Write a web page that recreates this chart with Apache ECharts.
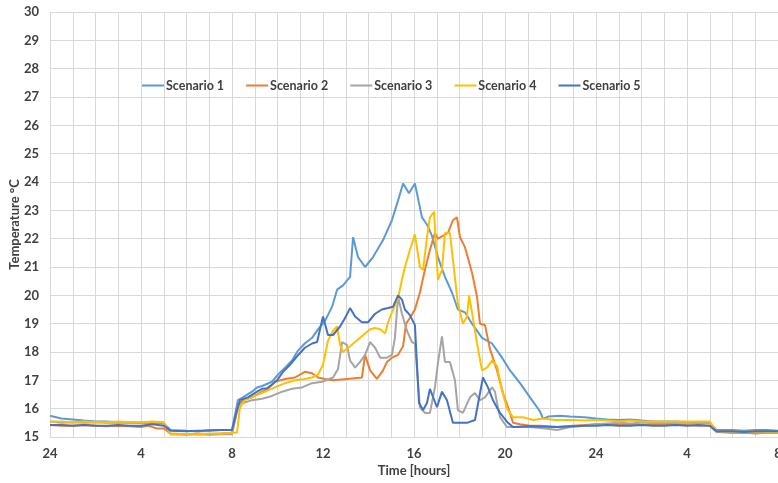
<!DOCTYPE html>
<html>
<head>
<meta charset="utf-8">
<script src="https://cdn.jsdelivr.net/npm/echarts@6/dist/echarts.min.js"></script>
<style>html,body{margin:0;padding:0;background:#fff}#c{width:778px;height:483px}</style>
</head>
<body>
<div id="c"></div>
<script>
// [hour since midnight of day 1, temperature °C]
const seriesNames = ["Scenario 1", "Scenario 2", "Scenario 3", "Scenario 4", "Scenario 5"];
const seriesColors = ["#5B9BD5", "#ED7D31", "#A5A5A5", "#FFC000", "#4472C4"];
const xTickHours = [0, 4, 8, 12, 16, 20, 24, 28, 32];
const xTickLabels = ["24", "4", "8", "12", "16", "20", "24", "4", "8"];

const scenario1 = [[0,15.75],[0.5,15.65],[1,15.62],[1.5,15.58],[2,15.55],[2.5,15.55],[3,15.52],[3.5,15.5],[4,15.5],[4.5,15.5],[5,15.48],[5.3,15.25],[6,15.22],[6.5,15.2],[7,15.25],[7.5,15.25],[8,15.25],
[8.26,16.3],[8.48,16.4],[8.88,16.6],[9.1,16.75],[9.32,16.8],[9.76,16.95],[10.02,17.2],[10.33,17.45],[10.64,17.7],[10.9,18.05],[11.2,18.3],[11.52,18.5],[11.78,18.8],[12.09,19.1],[12.4,19.6],[12.62,20.2],[12.88,20.35],[13.19,20.65],[13.32,22.05],[13.54,21.35],[13.85,21.0],[14.2,21.35],[14.64,21.95],[15.03,22.65],[15.3,23.35],[15.52,23.95],[15.78,23.6],[16.04,23.95],[16.35,22.75],[16.57,22.5],[16.79,22.1],[17.05,21.35],[17.36,20.65],[17.67,20.1],[17.93,19.5],[18.24,19.4],[18.55,19.0],[18.99,18.5],[19.43,18.3],[19.87,17.8],[20.22,17.35],[20.66,16.9],[21.1,16.4],[21.54,15.9],[21.67,15.65],[21.9,15.72],[22.4,15.75],[22.86,15.72],
[23.5,15.7],[24,15.65],[24.5,15.62],[25,15.6],[25.5,15.62],[26,15.58],[26.5,15.55],[27,15.55],[27.5,15.55],[28,15.52],[28.5,15.5],[29,15.5],[29.3,15.25],[30,15.25],[30.5,15.22],[31,15.25],[31.5,15.25],[32,15.22]];

const scenario2 = [[0,15.42],[0.5,15.4],[1,15.4],[1.5,15.42],[2,15.4],[2.5,15.38],[3,15.4],[3.5,15.38],[4,15.35],[4.3,15.4],[4.7,15.3],[5,15.3],[5.3,15.12],[6,15.1],[6.5,15.12],[7,15.1],[7.5,15.12],[8,15.15],
[8.26,16.1],[8.48,16.3],[8.88,16.4],[9.32,16.6],[9.58,16.7],[9.89,16.95],[10.33,17.05],[10.77,17.1],[11.2,17.3],[11.52,17.25],[11.78,17.1],[12.09,17.05],[12.44,17.0],[13.05,17.05],[13.71,17.1],[13.85,17.9],[14.07,17.35],[14.37,17.05],[14.64,17.35],[14.81,17.65],[15.03,17.8],[15.3,17.9],[15.52,18.2],[15.65,19.0],[15.82,19.2],[16.04,19.5],[16.26,20.1],[16.48,20.9],[16.7,21.6],[16.92,22.2],[17.05,22.0],[17.27,22.1],[17.49,22.2],[17.71,22.65],[17.89,22.75],[18.02,22.05],[18.24,21.7],[18.55,20.8],[18.77,19.95],[18.9,19.0],[19.12,18.95],[19.34,18.1],[19.65,17.35],[19.91,16.55],[20.22,15.85],[20.35,15.5],[20.66,15.45],[21.1,15.4],[21.54,15.4],[22.29,15.35],
[23,15.4],[23.5,15.42],[24,15.45],[24.5,15.45],[25,15.42],[25.5,15.45],[26,15.42],[26.5,15.45],[27,15.42],[27.5,15.45],[28,15.42],[28.5,15.4],[29,15.4],[29.3,15.18],[30,15.15],[30.5,15.15],[31,15.12],[31.5,15.15],[32,15.15]];

const scenario3 = [[0,15.55],[0.5,15.5],[1,15.52],[1.5,15.5],[2,15.52],[2.5,15.5],[3,15.5],[3.5,15.52],[4,15.5],[4.5,15.52],[5,15.5],[5.3,15.1],[6,15.08],[6.5,15.1],[7,15.08],[7.5,15.1],[8,15.1],
[8.22,15.9],[8.48,16.2],[8.88,16.3],[9.32,16.35],[9.76,16.45],[10.2,16.6],[10.64,16.7],[11.08,16.75],[11.52,16.9],[11.96,16.95],[12.44,17.1],[12.66,17.4],[12.84,18.35],[13.05,18.25],[13.19,17.7],[13.41,17.45],[13.63,17.65],[13.85,17.9],[14.07,18.35],[14.29,18.15],[14.51,17.8],[14.81,17.8],[15.03,17.9],[15.16,18.5],[15.3,19.95],[15.47,19.35],[15.69,18.75],[15.91,18.35],[16.04,18.3],[16.26,16.05],[16.48,15.85],[16.7,15.85],[16.92,16.75],[17.05,17.6],[17.23,18.55],[17.36,17.65],[17.58,17.65],[17.8,17.0],[17.93,15.95],[18.15,15.85],[18.46,16.4],[18.68,16.55],[18.9,16.3],[19.12,16.4],[19.43,16.75],[19.56,16.6],[19.65,16.2],[19.78,15.7],[20.09,15.35],[20.44,15.35],[21.1,15.35],[21.76,15.3],[22.29,15.25],[22.86,15.35],
[23.5,15.4],[24,15.45],[24.5,15.48],[25,15.5],[25.5,15.48],[26,15.5],[26.5,15.5],[27,15.48],[27.5,15.5],[28,15.5],[28.5,15.5],[29,15.5],[29.3,15.2],[30,15.15],[30.5,15.15],[31,15.15],[31.5,15.15],[32,15.15]];

const scenario4 = [[0,15.55],[0.5,15.55],[1,15.52],[1.5,15.55],[2,15.52],[2.5,15.52],[3,15.55],[3.5,15.52],[4,15.52],[4.5,15.55],[5,15.52],[5.3,15.1],[6,15.1],[6.5,15.1],[7,15.12],[7.5,15.12],[8,15.15],
[8.22,15.15],[8.35,16.05],[8.57,16.3],[9.01,16.45],[9.45,16.6],[9.89,16.75],[10.33,16.9],[10.77,17.0],[11.2,17.05],[11.52,17.1],[11.78,17.2],[12.0,17.55],[12.22,18.4],[12.44,18.75],[12.62,18.9],[12.75,18.25],[12.88,18.0],[13.19,18.2],[13.41,18.35],[13.63,18.5],[13.85,18.65],[14.07,18.8],[14.29,18.85],[14.51,18.8],[14.73,18.65],[14.86,19.05],[15.08,19.5],[15.3,19.9],[15.47,20.55],[15.6,21.0],[15.82,21.6],[16.04,22.15],[16.26,21.0],[16.4,20.9],[16.57,22.05],[16.7,22.75],[16.88,22.95],[17.05,20.55],[17.23,20.9],[17.36,22.2],[17.58,22.2],[17.71,21.25],[17.93,19.7],[18.15,19.0],[18.33,19.25],[18.42,20.0],[18.55,19.4],[18.77,18.3],[18.99,17.35],[19.21,17.45],[19.43,17.7],[19.65,17.5],[19.87,16.65],[20.09,16.0],[20.35,15.7],[20.79,15.7],[21.23,15.6],[21.67,15.65],[22.2,15.6],
[23,15.6],[23.5,15.58],[24,15.6],[24.5,15.58],[25,15.55],[25.5,15.58],[26,15.55],[26.5,15.55],[27,15.55],[27.5,15.55],[28,15.55],[28.5,15.55],[29,15.55],[29.3,15.2],[30,15.2],[30.5,15.18],[31,15.2],[31.5,15.18],[32,15.18]];

const scenario5 = [[0,15.42],[0.5,15.42],[1,15.4],[1.5,15.42],[2,15.4],[2.5,15.4],[3,15.42],[3.5,15.4],[4,15.4],[4.5,15.45],[5,15.4],[5.3,15.22],[6,15.2],[6.5,15.22],[7,15.22],[7.5,15.25],[8,15.25],
[8.04,15.3],[8.22,15.95],[8.35,16.3],[8.7,16.4],[9.1,16.6],[9.32,16.7],[9.54,16.72],[9.76,16.85],[9.98,17.0],[10.24,17.3],[10.55,17.55],[10.86,17.85],[11.2,18.15],[11.52,18.3],[11.74,18.35],[12.0,19.25],[12.22,18.6],[12.44,18.6],[12.75,18.9],[12.97,19.2],[13.19,19.55],[13.41,19.25],[13.71,19.05],[13.98,19.05],[14.29,19.35],[14.59,19.5],[14.86,19.55],[15.08,19.6],[15.3,20.0],[15.47,19.85],[15.6,19.5],[15.82,19.3],[16.04,18.95],[16.22,16.2],[16.4,15.95],[16.57,16.2],[16.7,16.7],[17.01,16.05],[17.23,16.6],[17.45,16.3],[17.71,15.5],[18.33,15.5],[18.68,15.6],[19.03,17.1],[19.25,16.75],[19.47,16.3],[19.78,15.85],[20.13,15.5],[20.35,15.35],[21.1,15.38],[22.29,15.35],
[23,15.38],[23.5,15.4],[24,15.4],[24.5,15.42],[25,15.4],[25.5,15.4],[26,15.42],[26.5,15.4],[27,15.4],[27.5,15.42],[28,15.4],[28.5,15.42],[29,15.4],[29.3,15.2],[30,15.2],[30.5,15.18],[31,15.2],[31.5,15.2],[32,15.2]];

const allData = [scenario1, scenario2, scenario3, scenario4, scenario5];

const chart = echarts.init(document.getElementById('c'), null, {renderer: 'canvas'});
const txt = '#404040';
const fontFam = 'Lato, "Open Sans", sans-serif';
chart.setOption({
  animation: false,
  backgroundColor: '#ffffff',
  color: seriesColors,
  grid: {left: 50, right: 0, top: 12, bottom: 46, containLabel: false, outerBoundsMode: 'none'},
  legend: {
    top: 74, left: 137,
    icon: 'rect', itemWidth: 22, itemHeight: 2, itemGap: 22,
    data: seriesNames,
    textStyle: {color: txt, fontWeight: 'bold', fontSize: 12.5, fontFamily: fontFam, padding: [0, 0, 0, -3]}
  },
  xAxis: {
    type: 'value', min: 0, max: 32, interval: 1,
    name: 'Time [hours]', nameLocation: 'middle', nameGap: 27, nameMoveOverlap: false,
    nameTextStyle: {color: txt, fontWeight: 'bold', fontSize: 13, fontFamily: fontFam},
    axisLine: {show: false}, axisTick: {show: false},
    splitLine: {show: true, lineStyle: {color: '#d9d9d9', width: 1}},
    axisLabel: {
      color: txt, fontWeight: 'bold', fontSize: 13, fontFamily: fontFam, margin: 10,
      showMaxLabel: true, hideOverlap: false,
      formatter: function (v) { const i = xTickHours.indexOf(v); return i >= 0 ? xTickLabels[i] : ''; }
    }
  },
  yAxis: {
    type: 'value', min: 15, max: 30, interval: 1,
    name: 'Temperature °C', nameLocation: 'middle', nameGap: 29, nameRotate: 90, nameMoveOverlap: false,
    nameTextStyle: {color: txt, fontWeight: 'bold', fontSize: 13, fontFamily: fontFam},
    axisLine: {show: false}, axisTick: {show: false},
    splitLine: {show: true, lineStyle: {color: '#d9d9d9', width: 1}},
    axisLabel: {color: txt, fontWeight: 'bold', fontSize: 13, fontFamily: fontFam, margin: 11}
  },
  series: seriesNames.map((n, i) => ({
    name: n, type: 'line', data: allData[i], showSymbol: false, symbol: 'none',
    lineStyle: {width: 2, color: seriesColors[i]}, itemStyle: {color: seriesColors[i]}
  }))
});
</script>
</body>
</html>
